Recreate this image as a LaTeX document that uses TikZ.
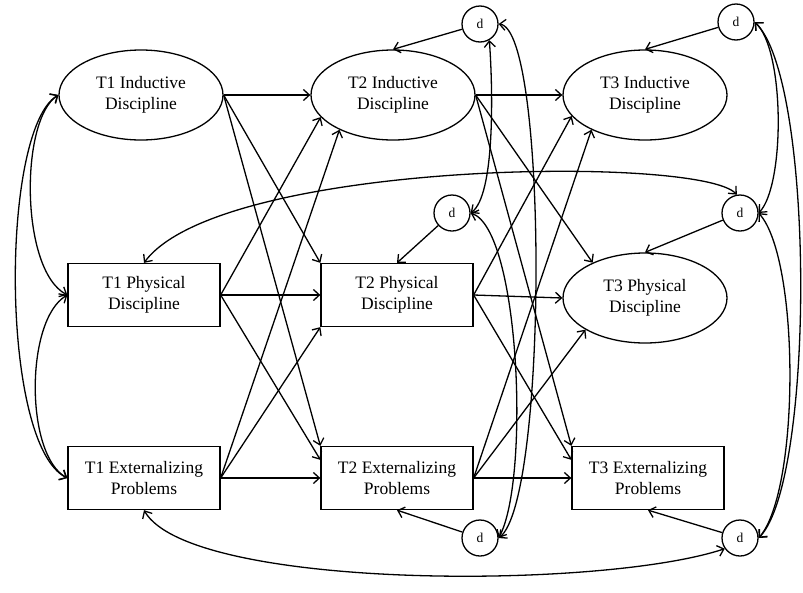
\documentclass[tikz,border=0pt]{standalone}
\usepackage{fontspec}
\setmainfont{Liberation Serif}
\usetikzlibrary{arrows.meta,shapes.geometric}
\begin{document}
\begin{tikzpicture}[x=1pt,y=-1pt,
  every node/.style={font=\fontsize{17.5}{21}\selectfont, align=center, draw, line width=1.3pt, inner sep=0pt},
  lat/.style={ellipse, minimum width=164pt, minimum height=90pt},
  obs/.style={rectangle, minimum width=152pt, minimum height=63pt},
  dist/.style={circle, minimum size=36pt, font=\fontsize{13.5}{15}\selectfont},
  tip/.tip={Straight Barb[length=6pt,width=11pt]},
  reg/.style={line width=1.3pt, -tip},
  covar/.style={line width=1.3pt, tip-tip},
]
\useasboundingbox (0,0) rectangle (803,592);

% nodes
\node[lat] (T1I) at (141,95) {T1 Inductive\\Discipline};
\node[lat] (T2I) at (393,95) {T2 Inductive\\Discipline};
\node[lat] (T3I) at (645,95) {T3 Inductive\\Discipline};
\node[obs] (T1P) at (144,295) {T1 Physical\\Discipline};
\node[obs] (T2P) at (397,295) {T2 Physical\\Discipline};
\node[lat] (T3P) at (645,298) {T3 Physical\\Discipline};
\node[obs] (T1E) at (144,478) {T1 Externalizing\\Problems};
\node[obs] (T2E) at (397,478) {T2 Externalizing\\Problems};
\node[obs] (T3E) at (648,478) {T3 Externalizing\\Problems};
\node[dist] (d1) at (480,24) {d};
\node[dist] (d2) at (736,22) {d};
\node[dist] (d3) at (452,213) {d};
\node[dist] (d4) at (740,213) {d};
\node[dist] (d5) at (480,538) {d};
\node[dist] (d6) at (740,538) {d};

% T1 -> T2
\draw[reg] (T1I.east) -- (T2I.west);
\draw[reg] (T1I.east) -- (T2P.north west);
\draw[reg] (T1I.east) -- (T2E.north west);
\draw[reg] (T1P.east) -- (T2I.197);
\draw[reg] (T1P.east) -- (T2P.west);
\draw[reg] (T1P.east) -- ([yshift=-14pt]T2E.north west);
\draw[reg] (T1E.east) -- (T2I.213);
\draw[reg] (T1E.east) -- (T2P.south west);
\draw[reg] (T1E.east) -- (T2E.west);

% T2 -> T3
\draw[reg] (T2I.east) -- (T3I.west);
\draw[reg] (T2I.east) -- (T3P.146);
\draw[reg] (T2I.east) -- (T3E.north west);
\draw[reg] (T2P.east) -- (T3I.196);
\draw[reg] (T2P.east) -- (T3P.west);
\draw[reg] (T2P.east) -- ([yshift=-14pt]T3E.north west);
\draw[reg] (T2E.east) -- (T3I.213);
\draw[reg] (T2E.east) -- (T3P.208);
\draw[reg] (T2E.east) -- (T3E.west);

% disturbances
\draw[reg] (d1) -- (T2I.north);
\draw[reg] (d2) -- (T3I.north);
\draw[reg] (d3) -- (T2P.north);
\draw[reg] (d4) -- (T3P.north);
\draw[reg] (d5) -- (T2E.south);
\draw[reg] (d6) -- (T3E.south);

% left covariances
\draw[covar] (T1I.west) .. controls (20,120) and (20,270) .. (T1P.west);
\draw[covar] (T1P.west) .. controls (25,320) and (25,455) .. (T1E.west);
\draw[covar] (T1I.west) .. controls (0,130) and (0,445) .. (T1E.west);

% right covariances
\draw[covar] (d2.east) .. controls (785,50) and (785,185) .. (d4.east);
\draw[covar] (d2.east) .. controls (815,80) and (815,480) .. (d6.east);
\draw[covar] (d4.east) .. controls (800,260) and (800,490) .. (d6.east);

% middle covariances
\draw[covar] (d3.east) .. controls (495,195) and (493,90) .. (d1.-60);
\draw[covar] (d1.east) .. controls (548,30) and (548,500) .. (d5.east);
\draw[covar] (d3.east) .. controls (520,230) and (530,480) .. (d5.east);

% long covariances
\draw[covar] (T1P.north) .. controls (220,160) and (700,155) .. (d4.100);
\draw[covar] (T1E.south) .. controls (190,590) and (600,590) .. (d6.215);
\end{tikzpicture}
\end{document}
